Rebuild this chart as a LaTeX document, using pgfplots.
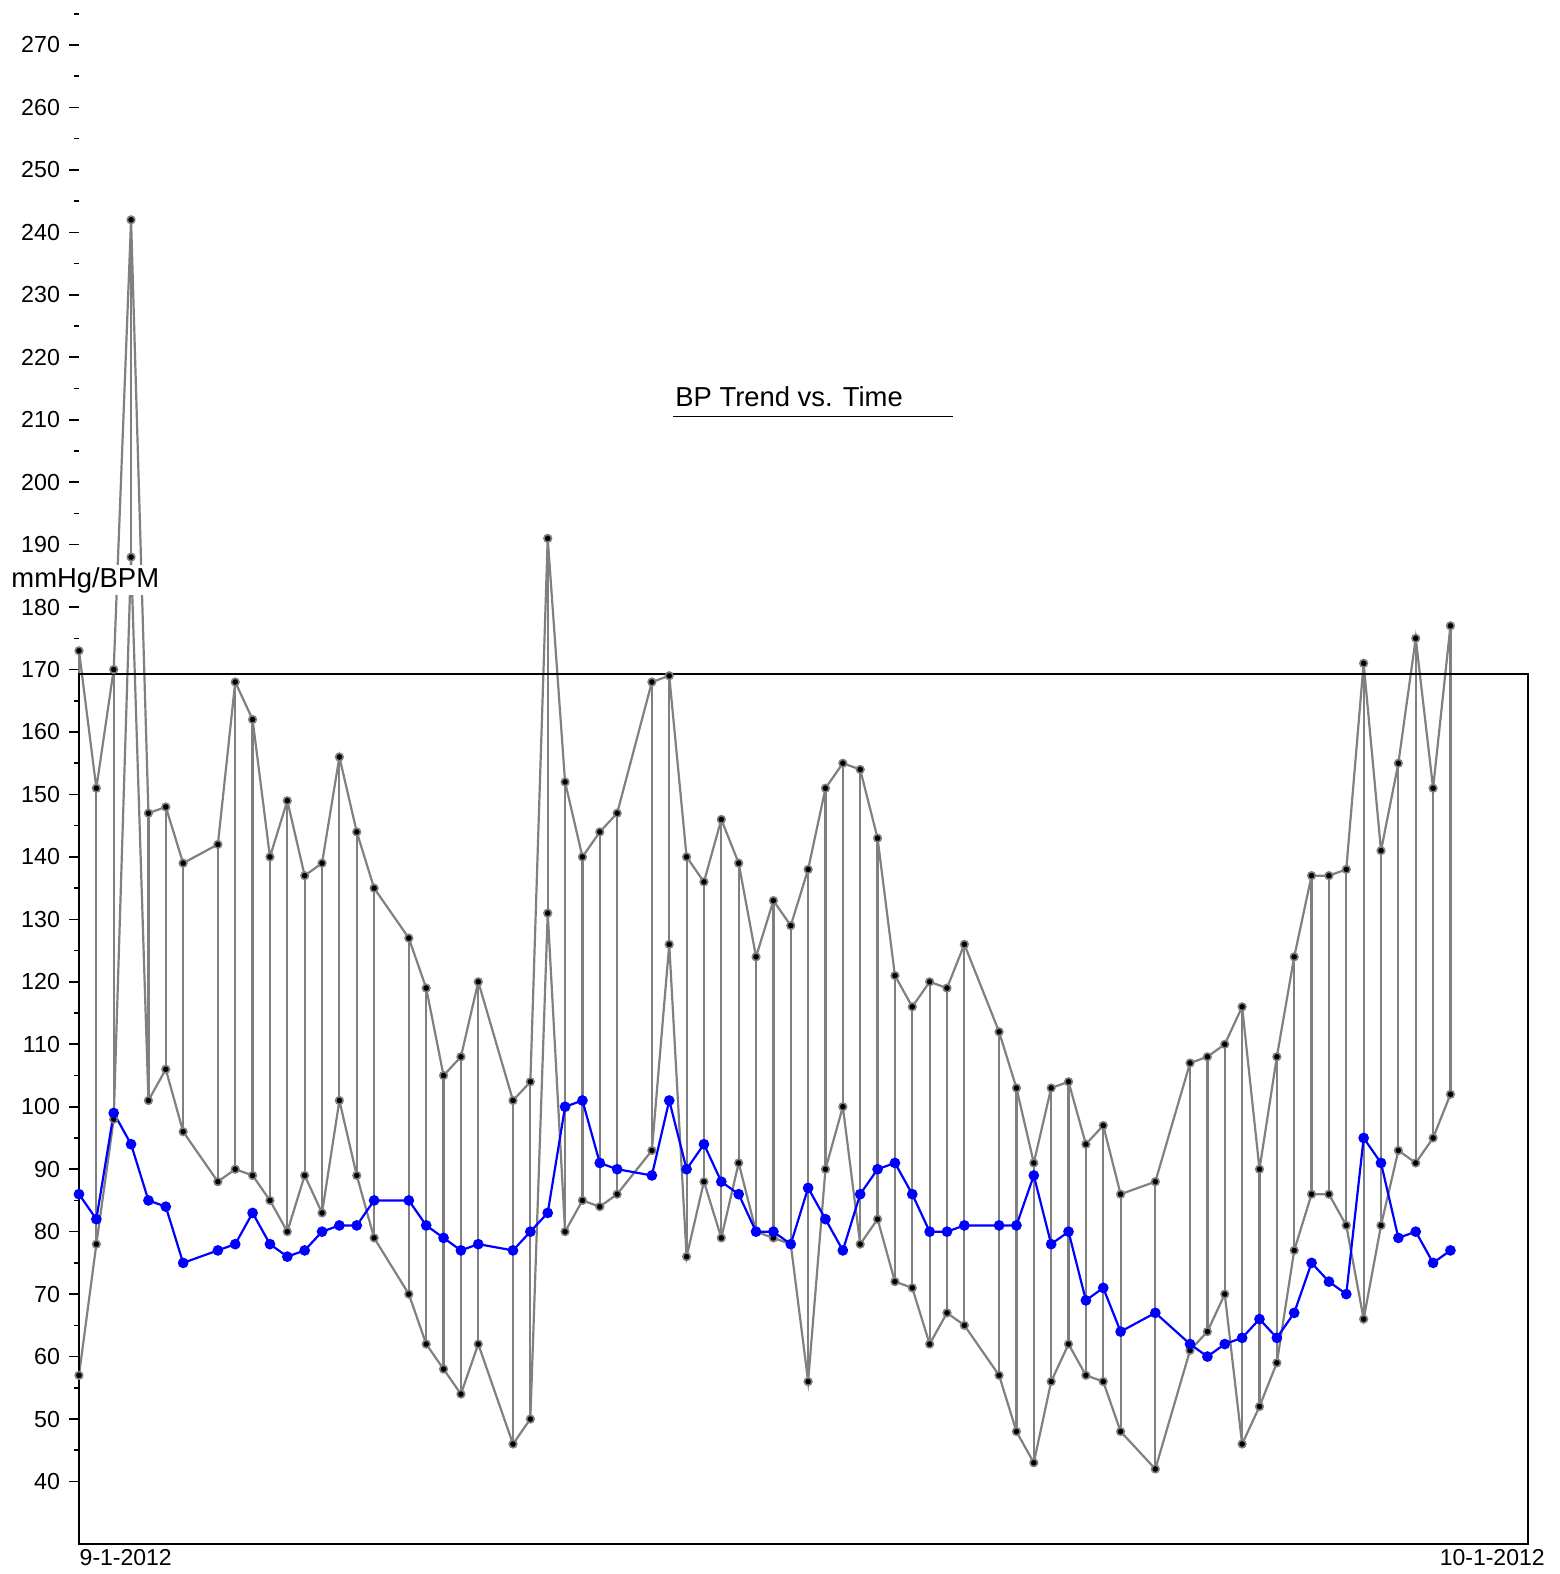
\documentclass[border=0pt]{standalone}
\usepackage{pgfplots}
\usepackage{pgfplotstable}
\pgfplotsset{compat=1.18}
\usepackage{fontspec}
\setmainfont{Liberation Sans}
\definecolor{lgray}{RGB}{128,128,128}
\pgfplotstableread{
x sys dia pul
0 173 57 86
1 151 78 82
2 170 98 99
3 242 188 94
4 147 101 85
5 148 106 84
6 139 96 75
8 142 88 77
9 168 90 78
10 162 89 83
11 140 85 78
12 149 80 76
13 137 89 77
14 139 83 80
15 156 101 81
16 144 89 81
17 135 79 85
19 127 70 85
20 119 62 81
21 105 58 79
22 108 54 77
23 120 62 78
25 101 46 77
26 104 50 80
27 191 131 83
28 152 80 100
29 140 85 101
30 144 84 91
31 147 86 90
33 168 93 89
34 169 126 101
35 140 76 90
36 136 88 94
37 146 79 88
38 139 91 86
39 124 80 80
40 133 79 80
41 129 78 78
42 138 56 87
43 151 90 82
44 155 100 77
45 154 78 86
46 143 82 90
47 121 72 91
48 116 71 86
49 120 62 80
50 119 67 80
51 126 65 81
53 112 57 81
54 103 48 81
55 91 43 89
56 103 56 78
57 104 62 80
58 94 57 69
59 97 56 71
60 86 48 64
62 88 42 67
64 107 61 62
65 108 64 60
66 110 70 62
67 116 46 63
68 90 52 66
69 108 59 63
70 124 77 67
71 137 86 75
72 137 86 72
73 138 81 70
74 171 66 95
75 141 81 91
76 155 93 79
77 175 91 80
78 151 95 75
79 177 102 77
}\data
\begin{document}
\begin{tikzpicture}
\begin{axis}[
  x=8.68pt, y=3.12285pt,
  xmin=0, xmax=83.45, ymin=25.19, ymax=277.2,
  axis line style={draw=none},
  xtick=\empty,
  ytick={40,50,...,270},
  minor ytick={45,55,...,275},
  ytick pos=left,
  tick align=outside,
  major tick length=5pt,
  minor tick length=2.5pt,
  every tick/.style={black, line width=0.8pt},
  yticklabel style={font=\fontsize{11.6}{13}\selectfont, xshift=-1pt},
  /pgf/number format/assume math mode=true,
  clip=false,
]
\addplot[lgray, line width=1.1pt, mark=*, mark size=1.9pt,
  mark options={fill=black, draw=lgray, line width=0.8pt, solid},
  error bars/.cd, y dir=plus, y explicit, error mark=none,
  error bar style={draw=lgray, line width=1.1pt}]
  table[x=x, y=dia, y error expr=\thisrow{sys}-\thisrow{dia}] {\data};
\addplot[lgray, line width=1.1pt, mark=*, mark size=1.9pt,
  mark options={fill=black, draw=lgray, line width=0.8pt, solid}]
  table[x=x, y=sys] {\data};
\addplot[blue, line width=1.1pt, mark=*, mark size=2.1pt,
  mark options={fill=blue, draw=blue, solid}]
  table[x=x, y=pul] {\data};
\draw[black, line width=0.8pt] (axis cs:0,30) rectangle (axis cs:83.45,169.3);
\node[anchor=base west, inner sep=0pt, font=\fontsize{13.7}{16}\selectfont] at (axis cs:34.33,212.09) {BP Trend vs. Time};
\draw[black, line width=0.7pt] (axis cs:34.23,210.49) -- (axis cs:50.33,210.49);
\node[anchor=base west, inner sep=1pt, fill=white, font=\fontsize{13.7}{16}\selectfont] at (axis cs:-4.03,183.2) {mmHg/BPM};
\node[anchor=base west, inner sep=0pt, font=\fontsize{11.5}{13}\selectfont] at (axis cs:0.02,26.55) {9-1-2012};
\node[anchor=base east, inner sep=0pt, font=\fontsize{11.5}{13}\selectfont] at (axis cs:84.45,26.55) {10-1-2012};
\path (axis cs:-4.55,25.19) rectangle (axis cs:85.31,277.2);
\end{axis}
\end{tikzpicture}
\end{document}
